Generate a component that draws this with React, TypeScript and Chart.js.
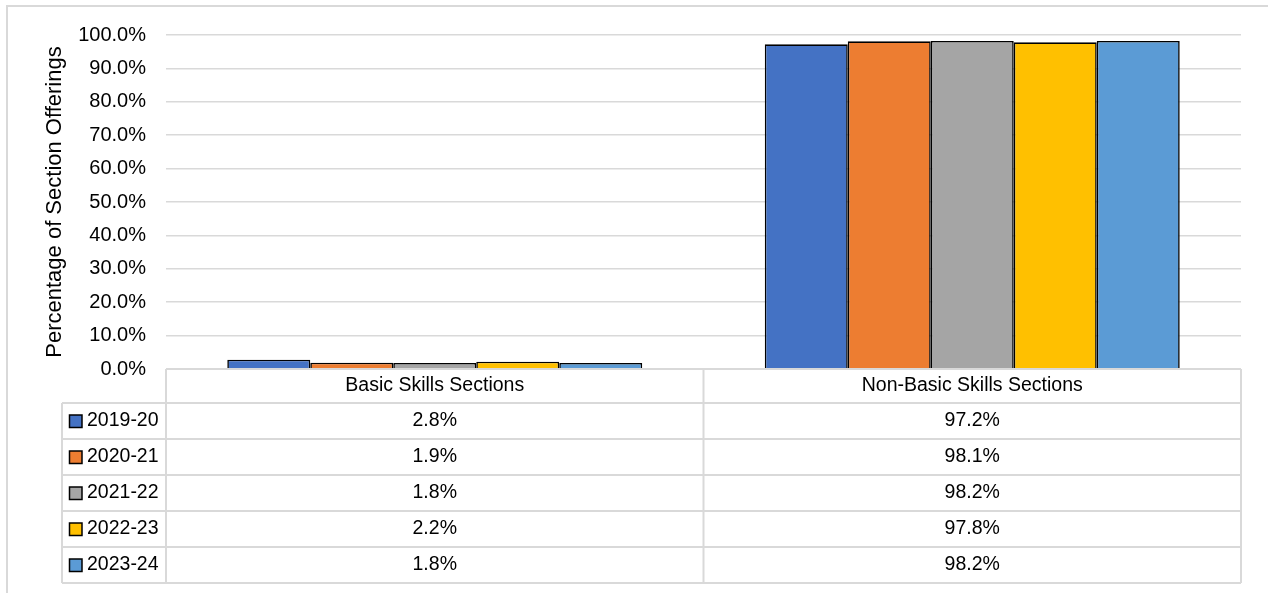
import React, { useEffect, useRef } from "react";
import { Chart, registerables } from "chart.js";

Chart.register(...registerables);

const categories = ["Basic Skills Sections", "Non-Basic Skills Sections"];
const seriesLabels = ["2019-20", "2020-21", "2021-22", "2022-23", "2023-24"];
const seriesColors = ["#4472C4", "#ED7D31", "#A5A5A5", "#FFC000", "#5B9BD5"];
const v2019 = [2.8, 97.2];
const v2020 = [1.9, 98.1];
const v2021 = [1.8, 98.2];
const v2022 = [2.2, 97.8];
const v2023 = [1.8, 98.2];
const seriesValues = [v2019, v2020, v2021, v2022, v2023];
const yTitle = "Percentage of Section Offerings";

const FONT = '"Liberation Sans", Arial, sans-serif';
const LINE = "#d9d9d9";

const tablePlugin = {
  id: "dataTable",
  beforeDraw(chart: any) {
    const ctx = chart.ctx;
    ctx.save();
    ctx.strokeStyle = LINE;
    ctx.lineWidth = 2;
    ctx.beginPath();
    ctx.moveTo(7, chart.height + 5);
    ctx.lineTo(7, 6);
    ctx.lineTo(chart.width + 5, 6);
    ctx.stroke();
    ctx.restore();
  },
  afterDraw(chart: any) {
    const ctx = chart.ctx;
    const area = chart.chartArea;
    const xs = chart.scales.x;
    const left = area.left;
    const right = area.right;
    const top = area.bottom;
    const headerH = 34;
    const rowH = 36;
    const legendLeft = 62;
    const nRows = seriesLabels.length;
    const bottom = top + headerH + rowH * nRows;
    const colW = (right - left) / categories.length;

    ctx.save();
    ctx.strokeStyle = LINE;
    ctx.lineWidth = 2;
    ctx.beginPath();
    ctx.moveTo(left, top);
    ctx.lineTo(right, top);
    for (let r = 0; r <= nRows; r++) {
      const y = top + headerH + r * rowH;
      ctx.moveTo(legendLeft, y);
      ctx.lineTo(right, y);
    }
    ctx.moveTo(legendLeft, top + headerH);
    ctx.lineTo(legendLeft, bottom);
    for (let c = 0; c <= categories.length; c++) {
      const x = left + c * colW;
      ctx.moveTo(x, top);
      ctx.lineTo(x, bottom);
    }
    ctx.stroke();

    ctx.fillStyle = "#000";
    ctx.font = `19.5px ${FONT}`;
    ctx.textBaseline = "middle";
    ctx.textAlign = "center";
    categories.forEach((cat, i) => {
      const cx = xs.getPixelForValue(i);
      ctx.fillText(cat, cx, top + headerH / 2);
    });

    seriesLabels.forEach((lab, r) => {
      const cy = top + headerH + r * rowH + rowH / 2;
      // legend key
      ctx.fillStyle = seriesColors[r];
      ctx.fillRect(69.5, cy - 6, 12.5, 12.5);
      ctx.strokeStyle = "#000";
      ctx.lineWidth = 1.5;
      ctx.strokeRect(69.5, cy - 6, 12.5, 12.5);
      ctx.fillStyle = "#000";
      ctx.textAlign = "left";
      ctx.fillText(lab, 87, cy);
      ctx.textAlign = "center";
      seriesValues[r].forEach((v, i) => {
        const cx = xs.getPixelForValue(i);
        ctx.fillText(v.toFixed(1) + "%", cx, cy);
      });
    });
    ctx.restore();
  },
};

export default function App() {
  const ref = useRef<HTMLCanvasElement | null>(null);
  useEffect(() => {
    if (!ref.current) return;
    const chart = new Chart(ref.current, {
      type: "bar",
      data: {
        labels: categories,
        datasets: seriesLabels.map((lab, i) => ({
          label: lab,
          data: seriesValues[i],
          backgroundColor: seriesColors[i],
          borderColor: "#000",
          borderWidth: 1.6,
          categoryPercentage: 0.772,
          barPercentage: 1.0,
        })),
      },
      options: {
        animation: false,
        responsive: false,
        devicePixelRatio: 1,
        layout: { padding: { left: 0, top: 35, right: 27, bottom: 224 } },
        plugins: {
          legend: { display: false },
          tooltip: { enabled: false },
          title: { display: false },
        },
        scales: {
          x: {
            display: false,
          },
          y: {
            min: 0,
            max: 100,
            afterFit(scale: any) {
              scale.width = 166;
            },
            ticks: {
              stepSize: 10,
              padding: 20,
              color: "#000",
              font: { family: FONT, size: 20 },
              callback: (v: any) => Number(v).toFixed(1) + "%",
            },
            grid: { color: LINE, lineWidth: 1.5, drawTicks: false },
            border: { display: false },
            title: {
              display: true,
              text: yTitle,
              color: "#000",
              font: { family: FONT, size: 22 },
              padding: { top: 42, bottom: 0 },
            },
          },
        },
      },
      plugins: [tablePlugin],
    });
    return () => chart.destroy();
  }, []);
  return (
    <div style={{ position: "absolute", left: 0, top: 0, width: 1268, height: 593, background: "#fff" }}>
      <canvas ref={ref} width={1268} height={593} style={{ display: "block" }} />
    </div>
  );
}
